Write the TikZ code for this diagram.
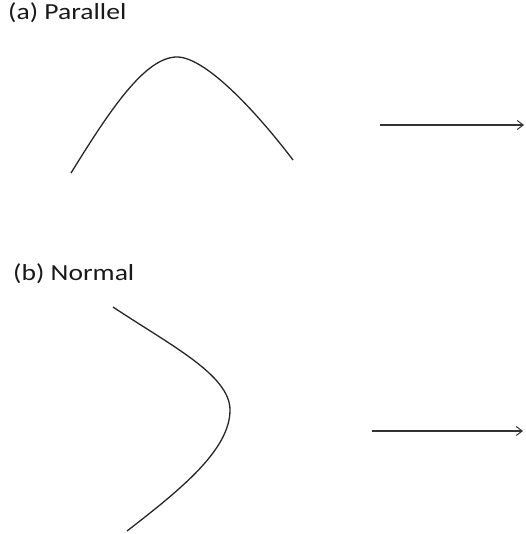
\documentclass[tikz,border=0pt]{standalone}
\usepackage{fontspec}
\setmainfont{Carlito}
\usetikzlibrary{arrows.meta}
\begin{document}
\begin{tikzpicture}[x=1pt,y=-1pt,
  curve/.style={line width=1.3pt, color=black!85},
  arr/.style={line width=1.3pt, color=black!80, -{Straight Barb[length=6pt,width=9pt,line width=1pt]}},
  lbl/.style={anchor=base west, inner sep=0pt, font=\fontsize{23}{25}\selectfont, xscale=1.2, text=black!90}]
\useasboundingbox (0,0) rectangle (525,534);
\node[lbl] (la) at (8,20) {(a) Parallel};
\node[lbl] (lb) at (13,280) {(b) Normal};
\draw[curve] (71,173) .. controls (110,110) and (145,57) .. (177,57)
  .. controls (205,57) and (255,110) .. (293,160);
\draw[curve] (113,307) .. controls (170,345) and (230,375) .. (230,410)
  .. controls (230,450) and (180,490) .. (127,531);
\coordinate (a1) at (380,125);
\coordinate (a2) at (524,125);
\coordinate (b1) at (372,431);
\coordinate (b2) at (523,431);
\draw[arr] (a1) -- (a2);
\draw[arr] (b1) -- (b2);
\end{tikzpicture}
\end{document}
